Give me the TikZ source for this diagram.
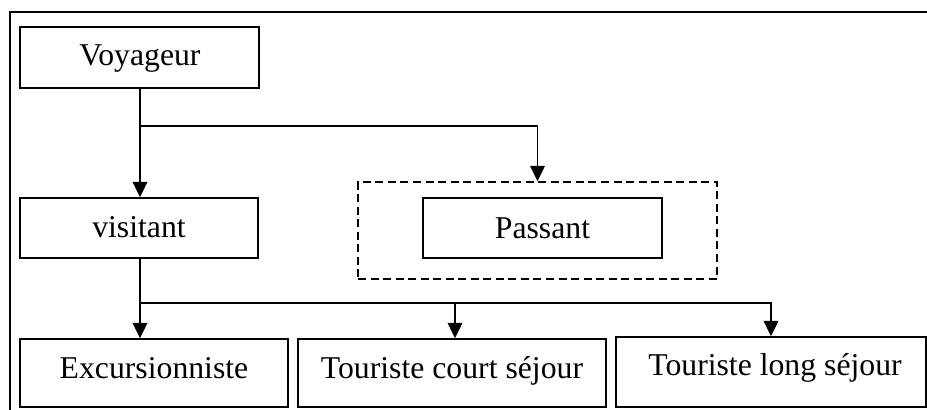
\documentclass[tikz,border=0pt]{standalone}
\usepackage{fontspec}
\setmainfont{Liberation Serif}
\usetikzlibrary{arrows.meta}
\begin{document}
\begin{tikzpicture}[x=0.75pt,y=-0.75pt,
  line width=1.25pt,
  box/.style={draw,rectangle,inner sep=0pt},
  frame/.style={draw,rectangle,inner sep=0pt,dash pattern=on 6pt off 3.4pt},
  lbl/.style={anchor=base,inner sep=0pt,font=\fontsize{23.8}{28}\selectfont},
  arr/.style={-{Triangle[length=11.5pt,width=11pt]}}]
\useasboundingbox (0,0) rectangle (927,410);

% outer frame (only its top and left sides fall on the page)
\draw (10,430) -- (10,12) -- (960,12);

% boxes
\node[box,minimum width=239*0.75pt,minimum height=61*0.75pt] (voy) at (139.5,57.5) {};
\node[box,minimum width=238*0.75pt,minimum height=60*0.75pt] (vis) at (139,228) {};
\node[frame,minimum width=359*0.75pt,minimum height=97*0.75pt] (pfr) at (537.5,230.5) {};
\node[box,minimum width=239*0.75pt,minimum height=60*0.75pt] (pas) at (542.5,228) {};
\node[box,minimum width=268*0.75pt,minimum height=68*0.75pt] (exc) at (154,373) {};
\node[box,minimum width=308*0.75pt,minimum height=68*0.75pt] (tcs) at (452,373) {};
\node[box,minimum width=310*0.75pt,minimum height=70*0.75pt] (tls) at (771,372) {};

% labels
\node[lbl] at (140,65) {Voyageur};
\node[lbl] at (139,237) {visitant};
\node[lbl] at (542.5,238) {Passant};
\node[lbl] at (154,378) {Excursionniste};
\node[lbl] at (452,378) {Touriste court séjour};
\node[lbl] at (775,375) {Touriste long séjour};

% connectors
\coordinate (j1) at (140,126);
\coordinate (j2) at (140,303);
\coordinate (k2) at (455,303);
\draw[arr] (voy.south -| j1) -- (vis.north -| j1);
\draw[arr] (j1) -| (pfr.north);
\draw[arr] (vis.south -| j2) -- (exc.north -| j2);
\draw[arr] (k2) -- (tcs.north -| k2);
\draw[arr] (j2) -| (tls.north);
\end{tikzpicture}
\end{document}
